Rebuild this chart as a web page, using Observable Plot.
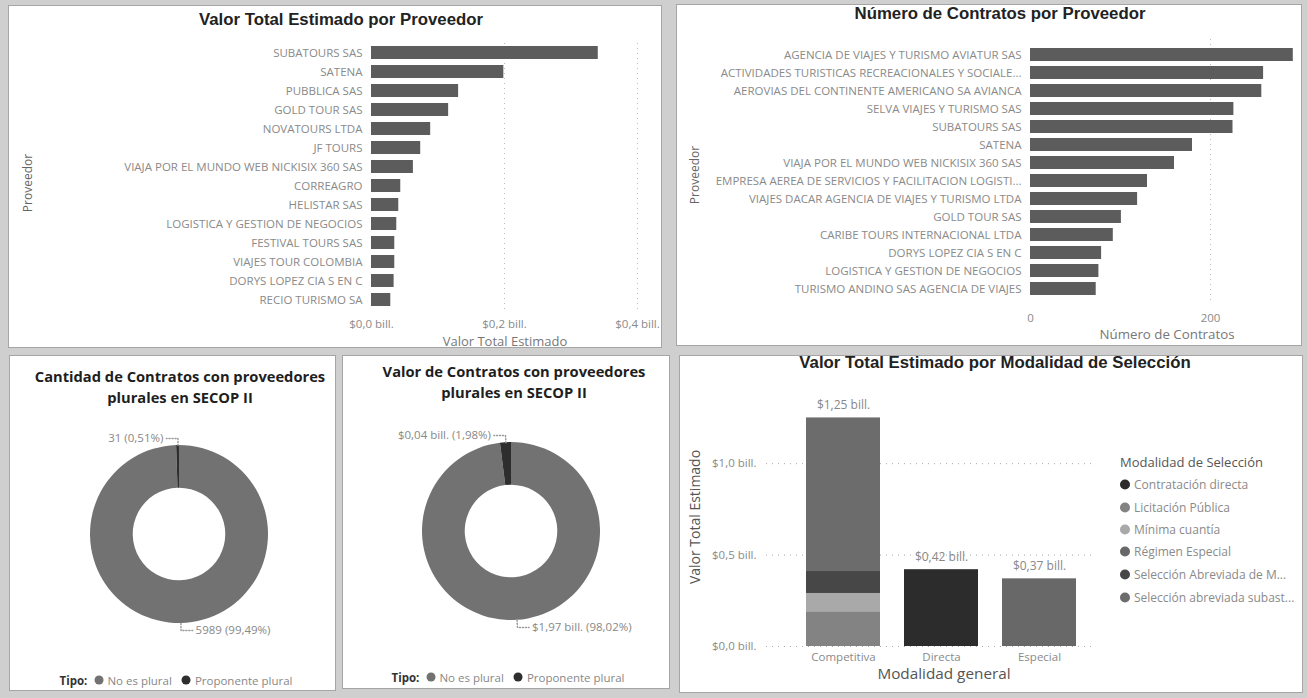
<!DOCTYPE html>
<html><head><meta charset="utf-8">
<script src="https://cdn.jsdelivr.net/npm/d3@7"></script>
<script src="https://cdn.jsdelivr.net/npm/@observablehq/plot@0.6"></script>
<style>
body{margin:0;width:1307px;height:698px;background:#cfcfcf;position:relative;overflow:hidden;font-family:"Open Sans",sans-serif}
.panel{position:absolute;background:#fff;border:1px solid #a5a5a5;box-sizing:border-box}
</style></head><body>
<div class="panel" style="left:8px;top:5px;width:654px;height:343px"></div>
<div class="panel" style="left:676px;top:4px;width:626px;height:342px"></div>
<div class="panel" style="left:9px;top:355px;width:327px;height:336px"></div>
<div class="panel" style="left:342px;top:355px;width:328px;height:334px"></div>
<div class="panel" style="left:679px;top:355px;width:624px;height:338px"></div>
<script>
// ---------------- DATA ----------------
const proveedoresValor = ["SUBATOURS SAS","SATENA","PUBBLICA SAS","GOLD TOUR SAS","NOVATOURS LTDA","JF TOURS","VIAJA POR EL MUNDO WEB NICKISIX 360 SAS","CORREAGRO","HELISTAR SAS","LOGISTICA Y GESTION DE NEGOCIOS","FESTIVAL TOURS SAS","VIAJES TOUR COLOMBIA","DORYS LOPEZ CIA S EN C","RECIO TURISMO SA"];
const valorTotal = [0.341,0.199,0.131,0.116,0.089,0.074,0.063,0.044,0.041,0.038,0.035,0.035,0.034,0.029];
const valorTicks = [0, 0.2, 0.4];

const proveedoresContratos = ["AGENCIA DE VIAJES Y TURISMO AVIATUR SAS","ACTIVIDADES TURISTICAS RECREACIONALES Y SOCIALE...","AEROVIAS DEL CONTINENTE AMERICANO SA AVIANCA","SELVA VIAJES Y TURISMO SAS","SUBATOURS SAS","SATENA","VIAJA POR EL MUNDO WEB NICKISIX 360 SAS","EMPRESA AEREA DE SERVICIOS Y FACILITACION LOGISTI...","VIAJES DACAR AGENCIA DE VIAJES Y TURISMO LTDA","GOLD TOUR SAS","CARIBE TOURS INTERNACIONAL LTDA","DORYS LOPEZ CIA S EN C","LOGISTICA Y GESTION DE NEGOCIOS","TURISMO ANDINO SAS AGENCIA DE VIAJES"];
const numContratos = [292,259,257,226,225,180,160,130,119,101,92,79,76,73];
const contratosTicks = [0, 200];

const tipos = ["No es plural","Proponente plural"];
const tipoColors = ["#727272","#2e2e2e"];
const cantidadTipo = [5989, 31];
const valorTipo = [1.9656, 0.0397];

const modalidades = ["Contratación directa","Licitación Pública","Mínima cuantía","Régimen Especial","Selección Abreviada de M...","Selección abreviada subast..."];
const modalidadColors = ["#2c2c2c","#838383","#a9a9a9","#686868","#474747","#6c6c6c"];
const generales = ["Competitiva","Directa","Especial"];
const filaGeneral = ["Competitiva","Competitiva","Competitiva","Competitiva","Directa","Especial"];
const filaModalidad = ["Licitación Pública","Mínima cuantía","Selección Abreviada de M...","Selección abreviada subast...","Contratación directa","Régimen Especial"];
const filaValor = [0.19,0.10,0.12,0.84,0.42,0.37];
const modalidadTicks = [0, 0.5, 1.0];

// ---------------- HELPERS ----------------
const fmtBill1 = d => "$" + d.toFixed(1).replace(".", ",") + " bill.";
const fmtBill2 = d => "$" + d.toFixed(2).replace(".", ",") + " bill.";
function place(txt, x, y, css, tr) {
  const el = document.createElement("div");
  el.textContent = txt;
  el.style.cssText = `position:absolute;left:${x}px;top:${y}px;white-space:nowrap;transform:${tr || "translate(-50%,-50%)"};` + css;
  document.body.appendChild(el);
  return el;
}
function mount(node, x, y) {
  const d = document.createElement("div");
  d.style.cssText = `position:absolute;left:${x}px;top:${y}px`;
  d.appendChild(node);
  document.body.appendChild(d);
}
const baseStyle = {fontFamily: "'Open Sans', sans-serif", fontSize: "11.5px", color: "#8a8a8a", background: "transparent", overflow: "visible"};
const titleArial = "font-family:'Liberation Sans',Arial,sans-serif;font-weight:bold;font-size:16.8px;color:#222;";
const titleOpen = "font-family:'Open Sans',sans-serif;font-weight:bold;font-size:14.7px;color:#1e1e1e;";

// ---------------- PANEL 1 ----------------
place("Valor Total Estimado por Proveedor", 341, 20, titleArial);
const t1 = proveedoresValor.map((p, i) => ({p, v: valorTotal[i]}));
mount(Plot.plot({
  width: 650, height: 305, marginLeft: 361, marginRight: 23, marginTop: 13, marginBottom: 26,
  style: baseStyle,
  x: {domain: [0, 0.4], ticks: valorTicks, tickFormat: fmtBill1, tickSize: 0, tickPadding: 10, label: null},
  y: {domain: proveedoresValor, paddingInner: 0.3, paddingOuter: 0.15, tickSize: 0, tickPadding: 9, label: null},
  marks: [
    Plot.ruleX(valorTicks.slice(1), {stroke: "#bbb", strokeDasharray: "1,4"}),
    Plot.barX(t1, {y: "p", x: "v", fill: "#5c5c5c"})
  ]
}), 10, 30);
place("Proveedor", 27, 183, "font-size:12px;color:#666;", "translate(-50%,-50%) rotate(-90deg)");
place("Valor Total Estimado", 505, 341, "font-size:13px;color:#777;");

// ---------------- PANEL 2 ----------------
place("Número de Contratos por Proveedor", 1000, 14, titleArial);
const t2 = proveedoresContratos.map((p, i) => ({p, v: numContratos[i]}));
mount(Plot.plot({
  width: 625, height: 300, marginLeft: 353, marginRight: 2, marginTop: 14, marginBottom: 22,
  style: baseStyle,
  x: {domain: [0, 300], ticks: contratosTicks, tickSize: 0, tickPadding: 10, label: null},
  y: {domain: proveedoresContratos, paddingInner: 0.3, paddingOuter: 0.15, tickSize: 0, tickPadding: 9, label: null},
  marks: [
    Plot.ruleX(contratosTicks.slice(1), {stroke: "#bbb", strokeDasharray: "1,4"}),
    Plot.barX(t2, {y: "p", x: "v", fill: "#5c5c5c"})
  ]
}), 677, 25);
place("Proveedor", 694, 175, "font-size:12px;color:#666;", "translate(-50%,-50%) rotate(-90deg)");
place("Número de Contratos", 1167, 334, "font-size:13.3px;color:#777;");

// ---------------- DONUTS ----------------
function donutChart(values, labels, cx, cy, R) {
  const arcs = d3.pie().sort(null)(values);
  const slices = arcs.map((a, i) => {
    const mid = (a.startAngle + a.endAngle) / 2;
    const sx = Math.sin(mid), sy = Math.cos(mid);
    const side = sx < 0 ? -1 : 1;
    return {tipo: tipos[i], color: tipoColors[i], start: a.startAngle, end: a.endAngle,
      x0: sx, y0: sy, x1: sx * 1.08, y1: sy * 1.08, x2: sx * 1.08 + side * 0.13, side, label: labels[i]};
  });
  const leaderPts = slices.flatMap(s => [
    {tipo: s.tipo, x: s.x0, y: s.y0}, {tipo: s.tipo, x: s.x1, y: s.y1}, {tipo: s.tipo, x: s.x2, y: s.y1}]);
  const ring = (index, scales) => {
    const x0 = scales.x(0), y0 = scales.y(0), r = scales.x(1) - x0;
    const arc = d3.arc().innerRadius(r * 0.52).outerRadius(r);
    const g = d3.create("svg:g").attr("transform", `translate(${x0},${y0})`);
    g.selectAll("path").data(slices).join("path")
      .attr("d", d => arc({startAngle: d.start, endAngle: d.end}))
      .attr("fill", d => d.color);
    return g.node();
  };
  return Plot.plot({
    width: 325, height: 230, margin: 0, style: baseStyle,
    x: {domain: [-1, 1], range: [cx - R, cx + R], axis: null},
    y: {domain: [-1, 1], range: [cy + R, cy - R], axis: null},
    marks: [
      ring,
      Plot.line(leaderPts, {x: "x", y: "y", z: "tipo", stroke: "#999", strokeDasharray: "1,2"}),
      Plot.text(slices.filter(s => s.side < 0), {x: "x2", y: "y1", text: "label", textAnchor: "end", dx: -3, fill: "#888"}),
      Plot.text(slices.filter(s => s.side > 0), {x: "x2", y: "y1", text: "label", textAnchor: "start", dx: 3, fill: "#888"})
    ]
  });
}
function tipoLegend(cx, y) {
  const d = document.createElement("div");
  d.style.cssText = `position:absolute;left:${cx}px;top:${y}px;transform:translate(-50%,-50%);white-space:nowrap;font-size:11.5px;color:#888;display:flex;align-items:center;gap:4px`;
  const b = document.createElement("span"); b.textContent = "Tipo:"; b.style.cssText = "font-weight:bold;color:#333;margin-right:3px"; d.appendChild(b);
  tipos.forEach((t, i) => {
    const s = document.createElement("span"); s.style.cssText = `display:inline-block;width:9px;height:9px;border-radius:50%;background:${tipoColors[i]}`; d.appendChild(s);
    const l = document.createElement("span"); l.textContent = t; l.style.marginRight = "6px"; d.appendChild(l);
  });
  document.body.appendChild(d);
}
const pct = (v, vals) => (v / d3.sum(vals) * 100).toFixed(2).replace(".", ",");

place("Cantidad de Contratos con proveedores", 180, 376, titleOpen);
place("plurales en SECOP II", 180, 397, titleOpen);
mount(donutChart(cantidadTipo, cantidadTipo.map(v => `${v} (${pct(v, cantidadTipo)}%)`), 170, 109, 89), 9, 425);
tipoLegend(179, 680);

place("Valor de Contratos con proveedores", 514, 371, titleOpen);
place("plurales en SECOP II", 514, 392, titleOpen);
mount(donutChart(valorTipo, valorTipo.map(v => `${fmtBill2(v)} (${pct(v, valorTipo)}%)`), 169, 106, 89), 342, 425);
tipoLegend(511, 677);

// ---------------- PANEL 5 ----------------
place("Valor Total Estimado por Modalidad de Selección", 995, 363, titleArial);
const t5 = filaGeneral.map((g, i) => ({g, m: filaModalidad[i], v: filaValor[i]}));
const totals = d3.rollups(t5, v => d3.sum(v, d => d.v), d => d.g).map(([g, v]) => ({g, v}));
mount(Plot.plot({
  width: 410, height: 310, marginLeft: 83, marginRight: 1, marginTop: 10, marginBottom: 44,
  style: baseStyle,
  x: {domain: generales, range: [123, 393], paddingInner: 0.245, paddingOuter: 0, tickSize: 0, tickPadding: 6, label: null},
  y: {domain: [0, 1.4], ticks: modalidadTicks, tickFormat: fmtBill1, tickSize: 0, tickPadding: 10, label: null},
  color: {domain: modalidades, range: modalidadColors},
  marks: [
    Plot.ruleY(modalidadTicks, {stroke: "#aaa", strokeDasharray: "1,5"}),
    Plot.barY(t5, {x: "g", y: "v", fill: "m"}),
    Plot.text(totals, {x: "g", y: "v", text: d => fmtBill2(d.v), dy: -13, fill: "#888", fontSize: 12})
  ]
}), 683, 380);
place("Valor Total Estimado", 694, 517, "font-size:14px;color:#555;", "translate(-50%,-50%) rotate(-90deg)");
place("Modalidad general", 944, 673, "font-size:15.3px;color:#555;");
place("Modalidad de Selección", 1120, 462, "font-size:13px;color:#555;", "translate(0,-50%)");
const legY = [484, 507, 529, 551, 574, 597];
modalidades.forEach((m, i) => {
  const d = document.createElement("div");
  d.style.cssText = `position:absolute;left:1120px;top:${legY[i]}px;transform:translate(0,-50%);white-space:nowrap;font-size:12px;color:#8a8a8a;display:flex;align-items:center;gap:4px`;
  const s = document.createElement("span"); s.style.cssText = `display:inline-block;width:10px;height:10px;border-radius:50%;background:${modalidadColors[i]}`;
  const l = document.createElement("span"); l.textContent = m;
  d.appendChild(s); d.appendChild(l); document.body.appendChild(d);
});
</script>
</body></html>
